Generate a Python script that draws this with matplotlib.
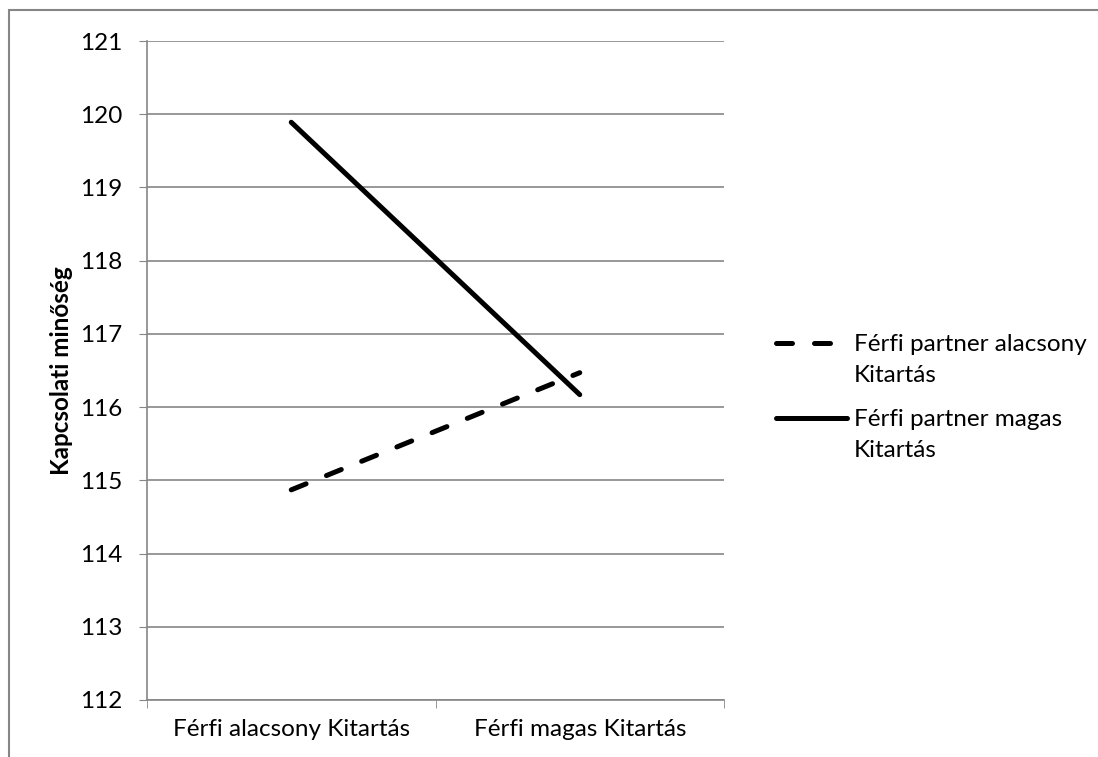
import matplotlib
matplotlib.use("Agg")
import matplotlib.pyplot as plt
from matplotlib.lines import Line2D
from matplotlib.patches import Rectangle

# data
categories = ["Férfi alacsony Kitartás", "Férfi magas Kitartás"]
low_partner = [114.87, 116.47]   # Férfi partner alacsony Kitartás
high_partner = [119.89, 116.17]  # Férfi partner magas Kitartás
series_labels = [("Férfi partner alacsony", "Kitartás"), ("Férfi partner magas", "Kitartás")]
y_ticks = list(range(112, 122))

plt.rcParams["font.family"] = ["Lato", "DejaVu Sans"]
plt.rcParams["font.size"] = 17.5

fig = plt.figure(figsize=(10.98, 7.57), dpi=100)
W, H = 1098, 757
ax = fig.add_axes([147 / W, 1 - 700 / H, (724 - 147) / W, (700 - 41) / H])

grey = "#868686"
x = list(range(len(categories)))
l1, = ax.plot(x, low_partner, color="black", lw=3.6, linestyle=(0, (3.2, 4.4)),
              dash_capstyle="round", solid_capstyle="round")
l2, = ax.plot(x, high_partner, color="black", lw=3.6, solid_capstyle="round")

ax.set_xlim(-0.5, 1.5)
ax.set_ylim(112, 121)
ax.set_yticks(y_ticks)
ax.set_xticks(x)
ax.set_xticklabels(categories)
ax.set_xticks([-0.5, 0.5, 1.5], minor=True)
ax.tick_params(axis="x", which="major", length=0, pad=14)
ax.tick_params(axis="x", which="minor", length=6, color=grey, direction="out")
ax.tick_params(axis="y", length=6, color=grey, pad=12)
ax.yaxis.grid(True, color=grey, lw=1.2)
ax.set_axisbelow(True)
for side in ["top", "right"]:
    ax.spines[side].set_visible(False)
for side in ["left", "bottom"]:
    ax.spines[side].set_color(grey)
    ax.spines[side].set_linewidth(1.2)
ax.set_ylabel("Kapcsolati minőség", fontweight="bold", fontsize=17.5, labelpad=5)

# legend: handle lines up with the first text line, like the original
blank = Line2D([], [], color="none")
for line, (first, second), top in zip([l1, l2], series_labels, [322, 397]):
    fig.legend([line, blank], [first, second], loc="upper left",
               bbox_to_anchor=(764 / W, 1 - top / H), frameon=False,
               handlelength=2.9, handletextpad=0.3, labelspacing=0.42,
               borderpad=0, fontsize=17.5)

# outer chart border
fig.patches.append(Rectangle((9 / W, -0.05), 1.2, 1 - 10 / H + 0.05,
                             transform=fig.transFigure, fill=False,
                             edgecolor=grey, lw=1.5))

fig.savefig("out.png", dpi=100)
